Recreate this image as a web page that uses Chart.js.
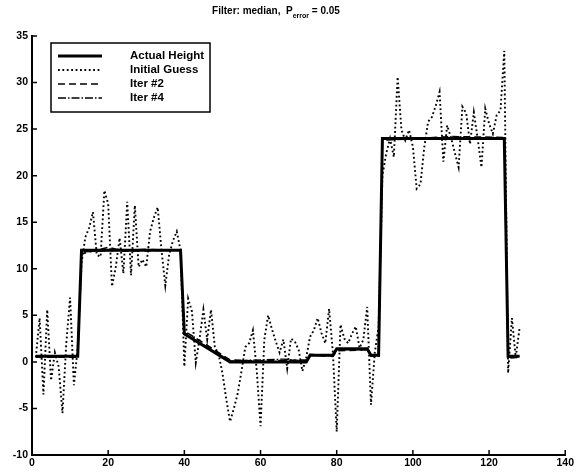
<!DOCTYPE html>
<html>
<head>
<meta charset="utf-8">
<script src="https://cdn.jsdelivr.net/npm/chart.js@4"></script>
<style>
  html, body { margin: 0; padding: 0; background: #fff; }
  #wrap { width: 576px; height: 473px; }
</style>
</head>
<body>
<div id="wrap"><canvas id="chart" width="576" height="473"></canvas></div>
<script>
// tick labels
const xTicks = [0, 20, 40, 60, 80, 100, 120, 140];
const yTicks = [-10, -5, 0, 5, 10, 15, 20, 25, 30, 35];

// Actual Height (breakpoints of the piecewise profile)
const actualX = [1, 12, 13, 39, 40, 52, 72, 73, 79, 80, 88, 89, 91, 92, 124, 125, 128];
const actualY = [0.6, 0.6, 12, 12, 3, 0, 0, 0.7, 0.7, 1.4, 1.4, 0.7, 0.7, 24, 24, 0.6, 0.6];

// Initial Guess, samples 1..128
const initialGuess = [
  0.5, 4.7, -3.5, 5.6, -2, 1, -0.5, -5.5, 2, 6.9,
  -2.5, 1.5, 10.6, 13.4, 14.4, 16.1, 11.5, 11.3, 18.4, 17,
  8.1, 10.2, 13.3, 9.5, 17.2, 9.3, 16.8, 10.2, 11, 10.2,
  14, 15.5, 16.6, 12, 8.2, 11.5, 13, 14, 12, -0.5,
  6.8, 5.4, -0.1, 2.5, 5.6, 2.4, 5.6, 1.6, 0.8, -1.2,
  -4, -6.4, -5, -3.4, -1, 1.6, 2, 3.4, -0.9, -6.9,
  2.4, 5, 3.5, 2.2, 1, 2.4, -0.7, 2.5, 2.2, 1.3,
  -1, 0.5, 2.7, 3.4, 4.7, 3.1, 2, 5.7, 1, -7.5,
  4, 2.5, 2, 3, 3.8, 1.5, 2.4, 5.9, -4.6, 1,
  3.8, 20, 22.4, 24, 22, 30.6, 24.9, 23.8, 24.9, 23.1,
  18.6, 19.1, 23.1, 25.8, 26.3, 27.5, 29, 21.5, 25.4, 24.1,
  22.5, 20.9, 27.4, 26.7, 23.4, 26.8, 24, 20.9, 27.2, 25.6,
  24.5, 26.5, 27, 33.4, -1.2, 4.7, 0.5, 3.6
];

// Iter #2
const iter2X = [1, 12, 13, 20, 24, 39, 40, 44, 52, 60, 72, 73, 79, 80, 88, 89, 91, 92, 110, 124, 125, 128];
const iter2Y = [0.5, 0.5, 11.6, 12.3, 11.9, 12, 3.3, 2.3, 0.2, 0.1, 0.2, 0.8, 0.6, 1.2, 1.3, 0.6, 0.6, 23.8, 24.2, 24.1, 0.4, 0.5];

// Iter #4
const iter4X = [1, 12, 13, 30, 39, 40, 46, 52, 66, 72, 73, 79, 80, 88, 89, 91, 92, 105, 124, 125, 128];
const iter4Y = [0.6, 0.6, 11.8, 12.1, 12, 3.1, 1.6, 0.1, 0.3, 0.1, 0.7, 0.6, 1.3, 1.3, 0.6, 0.6, 23.9, 24, 24, 0.5, 0.6];

const seriesNames = ['Actual Height', 'Initial Guess', 'Iter #2', 'Iter #4'];

function toPoints(xs, ys) {
    return xs.map((x, i) => ({ x: x, y: ys[i] }));
}

const FONT = "'Liberation Sans', Arial, sans-serif";

// MATLAB-like decorations: inward ticks, boxed legend, title with subscript
const matlabDecor = {
    id: 'matlabDecor',
    afterDraw(chart) {
        const ctx = chart.ctx;
        const xs = chart.scales.x;
        const ys = chart.scales.y;
        const area = chart.chartArea;
        ctx.save();
        ctx.strokeStyle = '#000';
        ctx.lineWidth = 1.5;
        ctx.beginPath();
        xTicks.forEach(t => {
            const px = xs.getPixelForValue(t);
            ctx.moveTo(px, area.bottom);
            ctx.lineTo(px, area.bottom - 5);
        });
        yTicks.forEach(t => {
            const py = ys.getPixelForValue(t);
            ctx.moveTo(area.left, py);
            ctx.lineTo(area.left + 5, py);
        });
        ctx.stroke();

        // legend
        const lx = 51, ly = 43, lw = 159, lh = 69;
        ctx.fillStyle = '#fff';
        ctx.fillRect(lx, ly, lw, lh);
        ctx.lineWidth = 1.5;
        ctx.strokeRect(lx, ly, lw, lh);
        ctx.font = 'bold 11.5px ' + FONT;
        ctx.textBaseline = 'middle';
        ctx.textAlign = 'left';
        chart.data.datasets.forEach((ds, i) => {
            const yy = 56 + i * 14;
            ctx.beginPath();
            ctx.lineWidth = ds.borderWidth;
            ctx.setLineDash(ds.borderDash || []);
            ctx.moveTo(58, yy);
            ctx.lineTo(102, yy);
            ctx.stroke();
            ctx.setLineDash([]);
            ctx.fillStyle = '#000';
            ctx.fillText(ds.label, 130, yy);
        });

        // title
        const part1 = 'Filter: median,  P';
        const sub = 'error';
        const part2 = ' = 0.05';
        ctx.font = 'bold 10px ' + FONT;
        const w1 = ctx.measureText(part1).width;
        const w3 = ctx.measureText(part2).width;
        ctx.font = 'bold 7px ' + FONT;
        const w2 = ctx.measureText(sub).width;
        const total = w1 + w2 + w3;
        let tx = 276 - total / 2;
        const ty = 14;
        ctx.textBaseline = 'alphabetic';
        ctx.font = 'bold 10px ' + FONT;
        ctx.fillText(part1, tx, ty);
        tx += w1;
        ctx.font = 'bold 7px ' + FONT;
        ctx.fillText(sub, tx, ty + 4);
        tx += w2;
        ctx.font = 'bold 10px ' + FONT;
        ctx.fillText(part2, tx, ty);
        ctx.restore();
    }
};

new Chart(document.getElementById('chart'), {
    type: 'line',
    data: {
        datasets: [
            {
                label: seriesNames[0],
                data: toPoints(actualX, actualY),
                borderColor: '#000',
                borderWidth: 3,
                pointRadius: 0,
                tension: 0
            },
            {
                label: seriesNames[1],
                data: initialGuess.map((v, i) => ({ x: i + 1, y: v })),
                borderColor: '#000',
                borderWidth: 1.9,
                borderDash: [1.8, 2.6],
                pointRadius: 0,
                tension: 0
            },
            {
                label: seriesNames[2],
                data: toPoints(iter2X, iter2Y),
                borderColor: '#000',
                borderWidth: 1.6,
                borderDash: [7, 4],
                pointRadius: 0,
                tension: 0
            },
            {
                label: seriesNames[3],
                data: toPoints(iter4X, iter4Y),
                borderColor: '#000',
                borderWidth: 1.3,
                borderDash: [8, 2, 1.5, 2],
                pointRadius: 0,
                tension: 0
            }
        ]
    },
    options: {
        responsive: false,
        animation: false,
        layout: { padding: { top: 36, right: 8, left: 0, bottom: 0 } },
        plugins: {
            legend: { display: false },
            tooltip: { enabled: false }
        },
        scales: {
            x: {
                type: 'linear',
                min: 0,
                max: 140,
                afterBuildTicks: (scale) => { scale.ticks = xTicks.map(v => ({ value: v })); },
                afterFit: (scale) => { scale.height = 18; },
                grid: { display: false, drawTicks: false },
                border: { display: true, color: '#000', width: 2 },
                ticks: {
                    color: '#000',
                    padding: 2,
                    maxRotation: 0,
                    font: { family: FONT, size: 10.5, weight: 'bold' }
                }
            },
            y: {
                type: 'linear',
                min: -10,
                max: 35,
                afterBuildTicks: (scale) => { scale.ticks = yTicks.map(v => ({ value: v })); },
                afterFit: (scale) => { scale.width = 32; },
                grid: { display: false, drawTicks: false },
                border: { display: true, color: '#000', width: 2 },
                ticks: {
                    color: '#000',
                    padding: 4,
                    font: { family: FONT, size: 10.5, weight: 'bold' }
                }
            }
        }
    },
    plugins: [matlabDecor]
});
</script>
</body>
</html>
